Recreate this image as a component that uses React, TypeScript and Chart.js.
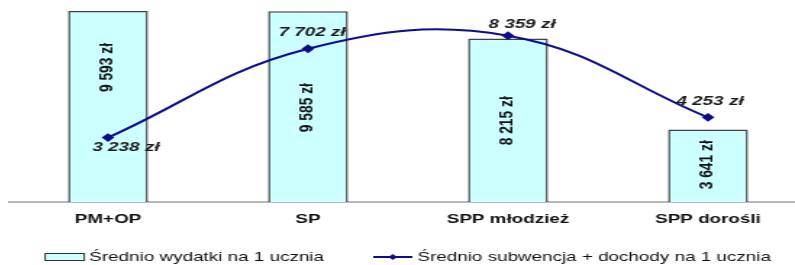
import React, { useEffect, useRef } from "react";
import { Chart, registerables } from "chart.js";

Chart.register(...registerables);

const categories = ["PM+OP", "SP", "SPP młodzież", "SPP dorośli"];
const spending = [9593, 9585, 8215, 3641];
const subsidy = [3238, 7702, 8359, 4253];
const seriesNames = [
  "Średnio wydatki na 1 ucznia",
  "Średnio subwencja + dochody na 1 ucznia",
];
const yMax = 10000;

const FONT = "'Liberation Sans', Arial, sans-serif";
const BAR_FILL = "#ccffff";
const BAR_BORDER = "#404040";
const LINE_COLOR = "#0c0c8c";
const STRETCH = 800 / 552;

// label offsets relative to marks (canvas px before horizontal stretch)
const BAR_LABEL_DY = [-39, 1, 0.5, -1];
const LINE_LABEL_OFFSETS = [
  [12.4, 10],
  [2.8, -16],
  [9.7, -11],
  [1.4, -15.5],
];

const fmt = (n: number) =>
  String(n).replace(/\B(?=(\d{3})+(?!\d))/g, " ") + " zł";

const labelPlugin = {
  id: "valueLabels",
  afterDatasetsDraw(chart: any) {
    const ctx = chart.ctx;
    const barMeta = chart.getDatasetMeta(0);
    barMeta.data.forEach((bar: any, i: number) => {
      const { x, y, base } = bar.getProps(["x", "y", "base"], true);
      const cy = (y + base) / 2 + BAR_LABEL_DY[i];
      ctx.save();
      ctx.translate(x, cy);
      ctx.rotate(-Math.PI / 2);
      ctx.scale(1.15, 1);
      ctx.font = `bold 12px ${FONT}`;
      ctx.textAlign = "center";
      ctx.textBaseline = "middle";
      ctx.fillStyle = "#111";
      ctx.fillText(fmt(spending[i]), 0, 0);
      ctx.restore();
    });
    const lineMeta = chart.getDatasetMeta(1);
    lineMeta.data.forEach((pt: any, i: number) => {
      const { x, y } = pt.getProps(["x", "y"], true);
      const [dx, dy] = LINE_LABEL_OFFSETS[i];
      ctx.save();
      ctx.font = `italic bold 13px ${FONT}`;
      ctx.textAlign = "center";
      ctx.textBaseline = "middle";
      ctx.fillStyle = "#1a1a1a";
      ctx.fillText(fmt(subsidy[i]), x + dx, y + dy);
      ctx.restore();
    });
  },
  afterDraw(chart: any) {
    const ctx = chart.ctx;
    const symW = 27;
    const gap = 3.5;
    const itemGap = 34;
    const cy = 257;
    ctx.save();
    ctx.font = `13px ${FONT}`;
    ctx.textBaseline = "middle";
    ctx.textAlign = "left";
    const w1 = ctx.measureText(seriesNames[0]).width;
    const w2 = ctx.measureText(seriesNames[1]).width;
    const total = symW + gap + w1 + itemGap + symW + gap + w2;
    let x = (chart.width - total) / 2;
    // bar item
    ctx.fillStyle = BAR_FILL;
    ctx.fillRect(x, cy - 3.5, symW, 7);
    ctx.strokeStyle = "#333";
    ctx.lineWidth = 1;
    ctx.strokeRect(x, cy - 3.5, symW, 7);
    x += symW + gap;
    ctx.fillStyle = "#111";
    ctx.fillText(seriesNames[0], x, cy);
    x += w1 + itemGap;
    // line item
    ctx.strokeStyle = LINE_COLOR;
    ctx.lineWidth = 2;
    ctx.beginPath();
    ctx.moveTo(x, cy);
    ctx.lineTo(x + symW, cy);
    ctx.stroke();
    const mx = x + symW / 2;
    ctx.fillStyle = LINE_COLOR;
    ctx.beginPath();
    ctx.moveTo(mx, cy - 3);
    ctx.lineTo(mx + 3, cy);
    ctx.lineTo(mx, cy + 3);
    ctx.lineTo(mx - 3, cy);
    ctx.closePath();
    ctx.fill();
    x += symW + gap;
    ctx.fillStyle = "#111";
    ctx.fillText(seriesNames[1], x, cy);
    ctx.restore();
  },
};

export default function App() {
  const ref = useRef<HTMLCanvasElement | null>(null);
  useEffect(() => {
    if (!ref.current) return;
    const chart = new Chart(ref.current, {
      type: "bar",
      data: {
        labels: categories,
        datasets: [
          {
            type: "bar",
            label: seriesNames[0],
            data: spending,
            backgroundColor: BAR_FILL,
            borderColor: BAR_BORDER,
            borderWidth: 1.5,
            barPercentage: 0.4,
            categoryPercentage: 1,
            order: 2,
          },
          {
            type: "line",
            label: seriesNames[1],
            data: subsidy,
            borderColor: LINE_COLOR,
            backgroundColor: LINE_COLOR,
            borderWidth: 2,
            pointStyle: "rectRot",
            pointRadius: 3,
            tension: 0.4,
            fill: false,
            clip: false,
            order: 1,
          },
        ],
      },
      options: {
        responsive: false,
        animation: false,
        devicePixelRatio: 1,
        layout: {
          autoPadding: false,
          padding: { top: 3, left: 0, right: 0, bottom: 0 },
        },
        plugins: {
          legend: { display: false },
          tooltip: { enabled: false },
        },
        scales: {
          x: {
            grid: { display: false, drawTicks: false },
            border: { display: true, color: "#b8b8b8", width: 2 },
            ticks: {
              padding: 10,
              color: "#111",
              font: { family: FONT, size: 13, weight: "bold" },
            },
            afterFit: (scale: any) => {
              scale.height = 63;
              scale.paddingLeft = 0;
              scale.paddingRight = 0;
            },
          },
          y: {
            display: false,
            min: 0,
            max: yMax,
          },
        },
      },
      plugins: [labelPlugin],
    });
    return () => chart.destroy();
  }, []);

  return (
    <div
      style={{
        position: "absolute",
        left: 0,
        top: 0,
        width: 795,
        height: 265,
        overflow: "hidden",
        background: "#fff",
      }}
    >
      <div
        style={{
          position: "absolute",
          left: 8,
          top: 0,
          width: 552,
          height: 265,
          transform: `scaleX(${STRETCH})`,
          transformOrigin: "0 0",
        }}
      >
        <canvas ref={ref} width={552} height={265} />
      </div>
    </div>
  );
}
